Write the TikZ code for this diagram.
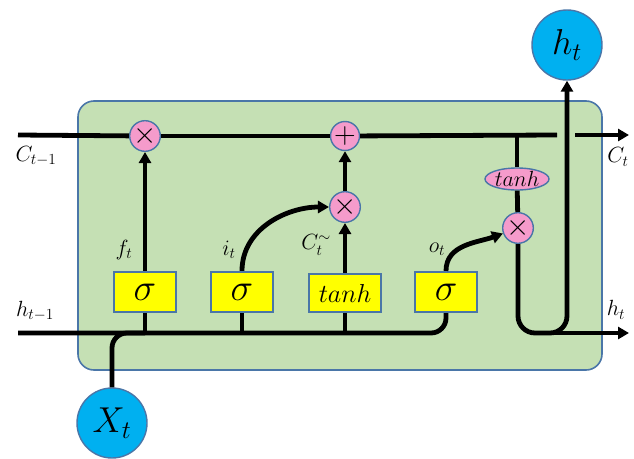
\documentclass[tikz,border=0pt]{standalone}
\usepackage{fix-cm}
\usepackage{amsmath,amssymb}
\usepackage{xcolor}
\usepackage{tikz}
\usetikzlibrary{arrows.meta,shapes.geometric}
\definecolor{cellc}{HTML}{C5E0B4}
\definecolor{borderc}{HTML}{4A76A8}
\definecolor{opc}{HTML}{F59BCB}
\definecolor{gatec}{HTML}{FFFF00}
\definecolor{statec}{HTML}{00B0F0}
\tikzset{
  cellbox/.style={draw=borderc, fill=cellc, line width=1.6pt, rounded corners=16pt},
  gatenode/.style={rectangle, draw=borderc, fill=gatec, line width=2.2pt,
    minimum width=62pt, minimum height=40pt, inner sep=0pt, font=\fontsize{38}{38}\selectfont},
  tanhnode/.style={gatenode, minimum width=72pt, minimum height=38pt, font=\fontsize{26}{26}\selectfont},
  opnode/.style={circle, draw=borderc, fill=opc, line width=1.4pt,
    minimum size=29pt, inner sep=0pt, font=\fontsize{30}{30}\selectfont},
  opellipse/.style={ellipse, draw=borderc, fill=opc, line width=1.4pt,
    minimum width=64pt, minimum height=22pt, inner sep=0pt, font=\fontsize{22}{22}\selectfont},
  statenode/.style={circle, draw=borderc, fill=statec, line width=1.4pt,
    minimum size=70pt, inner sep=0pt, font=\fontsize{36}{36}\selectfont},
  labelnode/.style={inner sep=0pt, font=\fontsize{22}{22}\selectfont},
  normaledge/.style={draw=black, line width=4.8pt},
  arrowedge/.style={normaledge, -{Triangle[length=11pt,width=12pt]}},
}

\begin{document}
\begin{tikzpicture}[x=1pt, y=-1pt]
  \useasboundingbox (0,0) rectangle (634,458);
  % cell
  \draw[cellbox] (78,101) rectangle (602,370);
  % ends of the lines
  \coordinate (cin) at (18,135);
  \coordinate (cout) at (629,135);
  \coordinate (hin) at (18,333);
  \coordinate (hout) at (629,333);
  \coordinate (ctap) at (517,135);
  \coordinate (cgap) at (557,135);
  \coordinate (cgapr) at (575,135);
  \coordinate (xjoin) at (145,333);
  \coordinate (hsplit) at (534,333);
  % gates
  \node[gatenode] (sigf) at (145,292) {$\sigma$};
  \node[gatenode] (sigi) at (242,292) {$\sigma$};
  \node[tanhnode] (tanhb) at (345,293) {$tanh$};
  \node[gatenode] (sigo) at (446,292) {$\sigma$};
  % pointwise operations
  \node[opnode] (mulf) at (145,136) {$\times$};
  \node[opnode] (add) at (345,136) {$+$};
  \node[opnode] (muli) at (345,207) {$\times$};
  \node[opellipse] (tanhc) at (517,179) {$tanh$};
  \node[opnode] (mulo) at (518,228) {$\times$};
  % input and output
  \node[statenode] (ht) at (567,45) {$h_t$};
  \node[statenode] (xt) at (112,423) {$X_t$};
  % labels
  \node[labelnode] (lcprev) at (36,156) {$C_{t-1}$};
  \node[labelnode] (lhprev) at (35,311) {$h_{t-1}$};
  \node[labelnode] (lcnext) at (618,157) {$C_t$};
  \node[labelnode] (lhnext) at (616,310) {$h_t$};
  \node[labelnode] (lf) at (124,250) {$f_t$};
  \node[labelnode] (li) at (229,250) {$i_t$};
  \node[labelnode] (lc) at (316,245) {$C_t^{\sim}$};
  \node[labelnode] (lo) at (437,249) {$o_t$};
  % connectors
  \draw[normaledge] (cin) -- (mulf);
  \draw[normaledge] (mulf) -- (add);
  \draw[normaledge] (add) -- (cgap);
  \draw[arrowedge] (cgapr) -- (cout);
  \draw[normaledge] (ctap) -- (tanhc);
  \draw[normaledge] (tanhc) -- (mulo);
  \draw[normaledge, rounded corners=15pt] (hin) -- (sigo.south |- hin) -- (sigo.south);
  \draw[normaledge, rounded corners=15pt] (xt.north) -- (xt.north |- hin) -- (xjoin);
  \draw[normaledge] (sigf.south) -- (sigf.south |- hin);
  \draw[normaledge] (sigi.south) -- (sigi.south |- hin);
  \draw[normaledge] (tanhb.south) -- (tanhb.south |- hin);
  \draw[arrowedge] (sigf.north) -- (mulf);
  \draw[arrowedge] (sigi.north) to[out=90, in=180] (muli);
  \draw[arrowedge] (tanhb.north) -- (muli);
  \draw[arrowedge] (muli) -- (add);
  \draw[arrowedge] (sigo.north) to[out=90, in=200] (mulo);
  \draw[arrowedge, rounded corners=17pt] (mulo.south) -- (mulo.south |- hin) -- (ht.south |- hin) -- (ht.south);
  \draw[arrowedge] (hsplit) -- (hout);
\end{tikzpicture}
\end{document}
